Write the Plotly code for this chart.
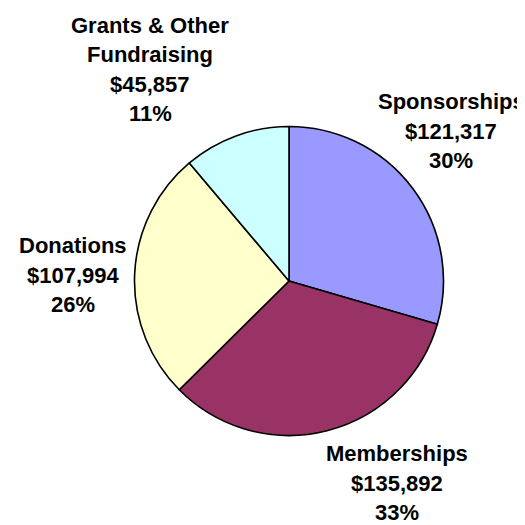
import plotly.graph_objects as go

# Data
categories = ["Sponsorships", "Memberships", "Donations", "Grants & Other<br>Fundraising"]
values = [121317, 135892, 107994, 45857]
colors = ["#9999FF", "#993366", "#FFFFCC", "#CCFFFF"]

W = H = 525
# layout: label block centers in pixels (x, y from top)
label_centers = [(443, 123), (389, 475), (65, 267), (142, 61.3)]
LINE_PX = 29.5
FONT = dict(family="Liberation Sans, Arial, sans-serif", size=22, color="black")

total = sum(values)

# Pie geometry (pixels)
cx, cy, r = 281, 273, 154.5

fig = go.Figure(go.Pie(
    labels=[c.replace("<br>", " ") for c in categories],
    values=values,
    sort=False,
    direction="clockwise",
    rotation=0,
    marker=dict(colors=colors, line=dict(color="black", width=1.6)),
    textinfo="none",
    hoverinfo="label+value+percent",
    domain=dict(x=[(cx - r) / W, (cx + r) / W],
                y=[1 - (cy + r) / H, 1 - (cy - r) / H]),
    showlegend=False,
))

annotations = []
for cat, val, (lx, ly) in zip(categories, values, label_centers):
    lines = cat.split("<br>") + ["${:,}".format(val), "{:.0f}%".format(round(100 * val / total))]
    n = len(lines)
    for i, line in enumerate(lines):
        py = ly + (i - (n - 1) / 2) * LINE_PX
        annotations.append(dict(
            x=lx / W, y=1 - py / H, xref="paper", yref="paper",
            text="<b>" + line + "</b>", showarrow=False,
            xanchor="center", yanchor="middle", font=FONT,
            borderpad=0,
        ))

fig.update_layout(
    width=W, height=H,
    margin=dict(l=0, r=0, t=0, b=0),
    paper_bgcolor="white", plot_bgcolor="white",
    annotations=annotations,
)

fig.write_html("out.html")
